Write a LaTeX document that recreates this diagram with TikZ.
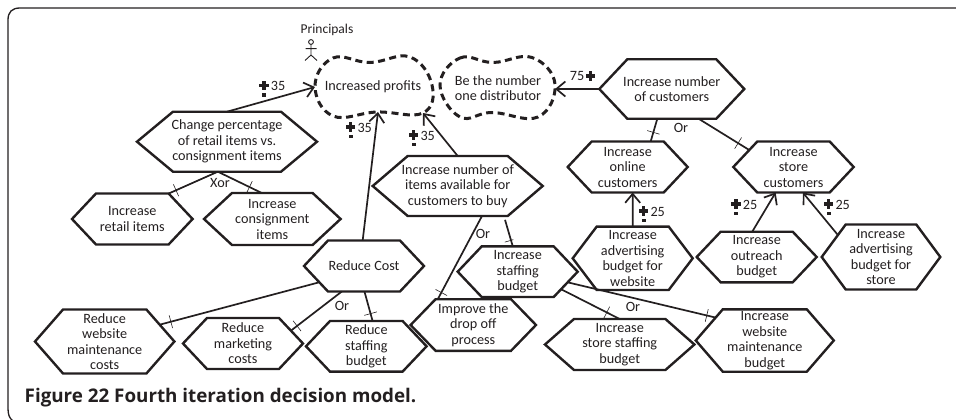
\documentclass[tikz,border=0pt]{standalone}
\usepackage{fontspec}
\setmainfont{Carlito}
\newfontfamily\capfont{Open Sans}
\usetikzlibrary{shapes.symbols,arrows.meta,decorations.markings}
\definecolor{ink}{HTML}{231F20}
\tikzset{
  hextext/.style={text=ink,font=\fontsize{14.2}{15.5}\selectfont,align=center,inner sep=0pt},
  hexbase/.style={draw=ink,line width=2.4pt,line join=miter,signal,signal to=west and east,inner sep=0pt,outer sep=0pt},
  lab/.style={text=ink,font=\fontsize{14.2}{15.5}\selectfont,align=center,inner sep=0pt},
  conn/.style={draw=ink,line width=1.7pt},
  link/.style={draw=ink,line width=1.7pt,-{Straight Barb[length=9pt,width=15pt,line width=1.7pt]}},
  tickat/.style={postaction={decorate,decoration={markings,mark=at position #1 with {\draw[ink,line width=.6pt] (0,-6.5)--(0,6.5);}}}},
  softgoal/.style={draw=ink,line width=3pt,dash pattern=on 7pt off 4.5pt},
  contrib/.pic={\fill[ink] (-1.7,-4.7) rectangle (1.7,4.7); \fill[ink] (-4.7,-1.7) rectangle (4.7,1.7);},
  contribdot/.pic={\fill[ink] (-1.8,-1.8) rectangle (1.8,1.8);},
}
\newcommand{\hexa}[7]{%
  \pgfmathsetmacro{\hexang}{2*atan(#5/#6)}%
  \node[hexbase,signal pointer angle=\hexang,minimum width=#4*2pt,minimum height=#5*2pt,
        label={[hextext]center:{#7}}] (#1) at (#2,#3) {};}
\newcommand{\mixedc}[4]{% plus, dot, number
  \pic at (#1,#2) {contrib};
  \pic at (#1,#2+9.5) {contribdot};
  \node[lab] at (#1+14,#2+0.5) {#3};}
\begin{document}
\begin{tikzpicture}[x=1pt,y=-1pt]
\useasboundingbox (0,0) rectangle (956,420);
% frame
\draw[ink,line width=1.3pt] (956,8) -- (20,8) .. controls (12,8) and (8,12) .. (8,20) -- (8,408) .. controls (8,414) and (9,418) .. (13,421);

% hexagons
\hexa{H1}{227}{141.7}{90}{30}{36}{Change percentage\\of retail items vs.\\consignment items}
\hexa{H2}{132.3}{219}{60.3}{25.5}{24}{Increase\\retail items}
\hexa{H3}{272.3}{219}{68.3}{26}{28}{Increase\\consignment\\items}
\hexa{H4}{364}{266}{60}{25.5}{24}{Reduce Cost}
\hexa{H5}{104.7}{341.5}{69.7}{32}{28}{Reduce\\website\\maintenance\\costs}
\hexa{H6}{243}{343.5}{60}{25.5}{24}{Reduce\\marketing\\costs}
\hexa{H7}{366.3}{346.3}{60.3}{25.3}{24}{Reduce\\staffing\\budget}
\hexa{H8}{473.3}{325}{62.7}{25.8}{25}{Improve the\\drop off\\process}
\hexa{H9}{457.7}{186}{85}{30}{35}{Increase number of\\items available for\\customers to buy}
\hexa{H10}{517.7}{271.7}{60}{25.3}{24}{Increase\\staffing\\budget}
\hexa{H11}{632.7}{258.3}{60}{31.7}{24}{Increase\\advertising\\budget for\\website}
\hexa{H12}{756.7}{257}{60}{25.3}{24}{Increase\\outreach\\budget}
\hexa{H13}{881}{257}{59.3}{32.5}{24}{Increase\\advertising\\budget for\\store}
\hexa{H14}{619.7}{344.5}{74.7}{25.5}{29}{Increase\\store staffing\\budget}
\hexa{H15}{764.8}{340.5}{69}{31.2}{27}{Increase\\website\\maintenance\\budget}
\hexa{H16}{671.8}{89}{72.5}{29.7}{28}{Increase number\\of customers}
\hexa{H17}{627.7}{167}{60}{25.5}{24}{Increase\\online\\customers}
\hexa{H18}{793.5}{167}{60.2}{25.5}{24}{Increase\\store\\customers}

% soft goals
\draw[softgoal] plot[smooth cycle,tension=.7] coordinates {(315,86) (333,58) (370,62.5) (410,57) (432,85) (423,113) (377,112) (333,116)};
\draw[softgoal] plot[smooth cycle,tension=.7] coordinates {(440,85) (460,58) (493,62.5) (532,57.5) (555,84) (538,117) (492,112.5) (460,117)};
\node[lab] (G1) at (373,87) {Increased profits};
\node[lab] (G2) at (498,88) {Be the number\\one distributor};
\coordinate (G1w) at (315,87);
\coordinate (G1s) at (378,112);
\coordinate (G1r) at (423,113);
\coordinate (G2e) at (555,89);

% contributions
\draw[link] (H1.north) -- (G1w);
\draw[link] (H4.93) -- (G1s);
\draw[link] (H9.north) -- (G1r);
\draw[link] (H16.west) -- (G2e);
\draw[link] (H11.north) -- (H17.-79);
\draw[link] (H12.100.5) -- (H18.235.5);
\draw[link] (H13.153) -- (H18.-70);

% decompositions
\draw[conn,tickat=.85] (H1.253) -- (H2.35);
\draw[conn,tickat=.72] (H1.253) -- (H3.112);
\draw[conn,tickat=.93] (H4.200) -- (H5.17.6);
\draw[conn,tickat=.88] (H4.229) -- (H6.15);
\draw[conn,tickat=.75] (H4.-89) -- (H7.76.7);
\draw[conn,tickat=.92] (H9.-51.3) -- (H8.144);
\draw[conn,shorten <=4pt,tickat=.8] (H9.-33.5) -- (H10.101);
\draw[conn,tickat=.78] (H10.-22.4) -- (H14.north);
\draw[conn,tickat=.94] (H10.-12.4) -- (H15.155.2);
\draw[conn,tickat=.6] (H16.244.6) -- (H17.48.4);
\draw[conn,tickat=.78] (H16.-48.9) -- (H18.159);

% gate labels
\node[lab] (xor1) at (220,183) {Xor};
\node[lab] (or1) at (342,306) {Or};
\node[lab] (or2) at (483,234) {Or};
\node[lab] (or3) at (633,307) {Or};
\node[lab] (or4) at (681,128) {Or};

% contribution labels
\mixedc{264}{85.5}{35}{}
\mixedc{350.7}{127}{35}{}
\mixedc{413.7}{135}{35}{}
\mixedc{643.7}{211}{25}{}
\mixedc{736}{204}{25}{}
\mixedc{828.7}{204}{25}{}
\pic at (590.3,76) {contrib};
\node[lab] (c75) at (577,75.5) {75};

% actor
\node[lab,font=\fontsize{13.5}{14}\selectfont] (P) at (327,30) {Principals};
\draw[ink,line width=.9pt] (311,42) circle (2.4);
\draw[ink,line width=.9pt] (311,44.4) -- (311,55) (305.5,48.7) -- (316.5,48.7) (305,60.5) -- (311,55) -- (317,60.5);

% caption
\node[anchor=base west,inner sep=0pt,text=ink,font=\capfont\bfseries\fontsize{18.8}{20}\selectfont] (cap) at (24.5,402) {Figure 22 Fourth iteration decision model.};
\end{tikzpicture}
\end{document}
